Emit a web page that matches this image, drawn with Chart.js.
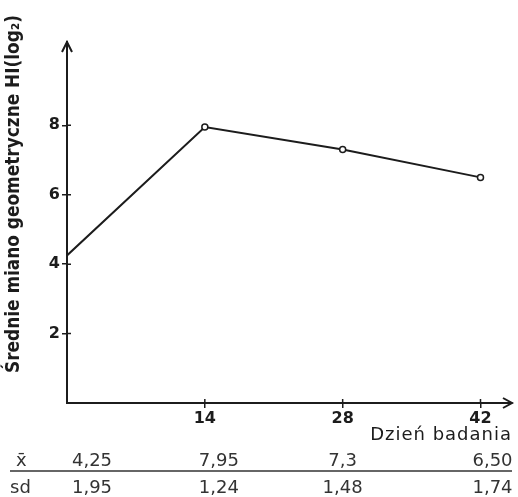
<!DOCTYPE html>
<html>
<head>
<meta charset="utf-8">
<script src="https://cdn.jsdelivr.net/npm/chart.js@4"></script>
<style>
  body { margin: 0; background: #fff; }
</style>
</head>
<body>
<canvas id="chart" width="518" height="497"></canvas>
<script>
// data
const days = [0, 14, 28, 42];
const means = [4.25, 7.95, 7.3, 6.50];
const meanLabels = ['4,25', '7,95', '7,3', '6,50'];
const sdLabels = ['1,95', '1,24', '1,48', '1,74'];
const yTicks = [2, 4, 6, 8];
const xTicks = [14, 28, 42];
const yTitle = 'Średnie miano geometryczne HI(log₂)';
const xTitle = 'Dzień badania';

const ink = '#1c1c1c';

// arrows, cross ticks, axis titles and the table under the chart
const extras = {
    id: 'extras',
    afterDraw(chart) {
        const ctx = chart.ctx;
        const a = chart.chartArea;
        const xs = chart.scales.x, ys = chart.scales.y;
        ctx.save();
        ctx.strokeStyle = ink;
        ctx.fillStyle = ink;
        ctx.lineWidth = 2;

        // arrow heads
        ctx.beginPath();
        ctx.moveTo(a.left - 5, a.top + 10);
        ctx.lineTo(a.left, a.top);
        ctx.lineTo(a.left + 5, a.top + 10);
        ctx.moveTo(a.right - 9, a.bottom - 5);
        ctx.lineTo(a.right, a.bottom);
        ctx.lineTo(a.right - 9, a.bottom + 5);
        ctx.stroke();

        // inner half of tick marks
        ctx.lineWidth = 1.5;
        ctx.beginPath();
        yTicks.forEach(v => {
            const y = ys.getPixelForValue(v);
            ctx.moveTo(a.left, y);
            ctx.lineTo(a.left + 4, y);
        });
        xTicks.forEach(v => {
            const x = xs.getPixelForValue(v);
            ctx.moveTo(x, a.bottom);
            ctx.lineTo(x, a.bottom - 4);
        });
        ctx.stroke();

        // y title
        ctx.save();
        ctx.translate(14, 194);
        ctx.rotate(-Math.PI / 2);
        ctx.font = 'bold 19px "DejaVu Sans Condensed", "DejaVu Sans"';
        ctx.textAlign = 'center';
        ctx.textBaseline = 'middle';
        ctx.fillText(yTitle, 0, 0, 358);
        ctx.restore();

        // x title
        ctx.font = '18px "DejaVu Sans"';
        ctx.letterSpacing = '1px';
        ctx.textAlign = 'right';
        ctx.textBaseline = 'alphabetic';
        ctx.fillText(xTitle, a.right, 440);
        ctx.letterSpacing = '0px';

        // table
        const offs = [25, 14, 0, 12];
        ctx.font = '18px "DejaVu Sans"';
        ctx.textAlign = 'center';
        ctx.fillStyle = '#333';
        days.forEach((d, i) => {
            const x = xs.getPixelForValue(d) + offs[i];
            ctx.fillText(meanLabels[i], x, 466);
            ctx.fillText(sdLabels[i], x, 493);
        });
        ctx.textAlign = 'left';
        ctx.fillText('x̄', 16, 466);
        ctx.fillText('sd', 10, 493);
        ctx.strokeStyle = '#333';
        ctx.lineWidth = 1.5;
        ctx.beginPath();
        ctx.moveTo(10, 471);
        ctx.lineTo(a.right, 471);
        ctx.stroke();
        ctx.restore();
    }
};

new Chart(document.getElementById('chart'), {
    type: 'line',
    data: {
        datasets: [{
            data: days.map((d, i) => ({ x: d, y: means[i] })),
            borderColor: ink,
            borderWidth: 2,
            tension: 0,
            pointRadius: [0, 3, 3, 3],
            pointBackgroundColor: '#fff',
            pointBorderColor: ink,
            pointBorderWidth: 1.5
        }]
    },
    options: {
        responsive: false,
        animation: false,
        layout: { padding: { top: 42, right: 6, left: 0, bottom: 0 } },
        plugins: { legend: { display: false }, tooltip: { enabled: false } },
        scales: {
            x: {
                type: 'linear',
                min: 0,
                max: 45.2,
                afterFit: s => { s.height = 94; },
                afterBuildTicks: s => { s.ticks = xTicks.map(v => ({ value: v })); },
                border: { color: ink, width: 2 },
                grid: { drawOnChartArea: false, tickLength: 5, color: ink, lineWidth: 1.5 },
                ticks: { color: ink, padding: 1, font: { family: 'DejaVu Sans', size: 16, weight: 'bold' } }
            },
            y: {
                min: 0,
                max: 10.4,
                afterFit: s => { s.width = 67; },
                afterBuildTicks: s => { s.ticks = yTicks.map(v => ({ value: v })); },
                border: { color: ink, width: 2 },
                grid: { drawOnChartArea: false, tickLength: 5, color: ink, lineWidth: 1.5 },
                ticks: { color: ink, padding: 2, font: { family: 'DejaVu Sans', size: 16, weight: 'bold' } }
            }
        }
    },
    plugins: [extras]
});
</script>
</body>
</html>
